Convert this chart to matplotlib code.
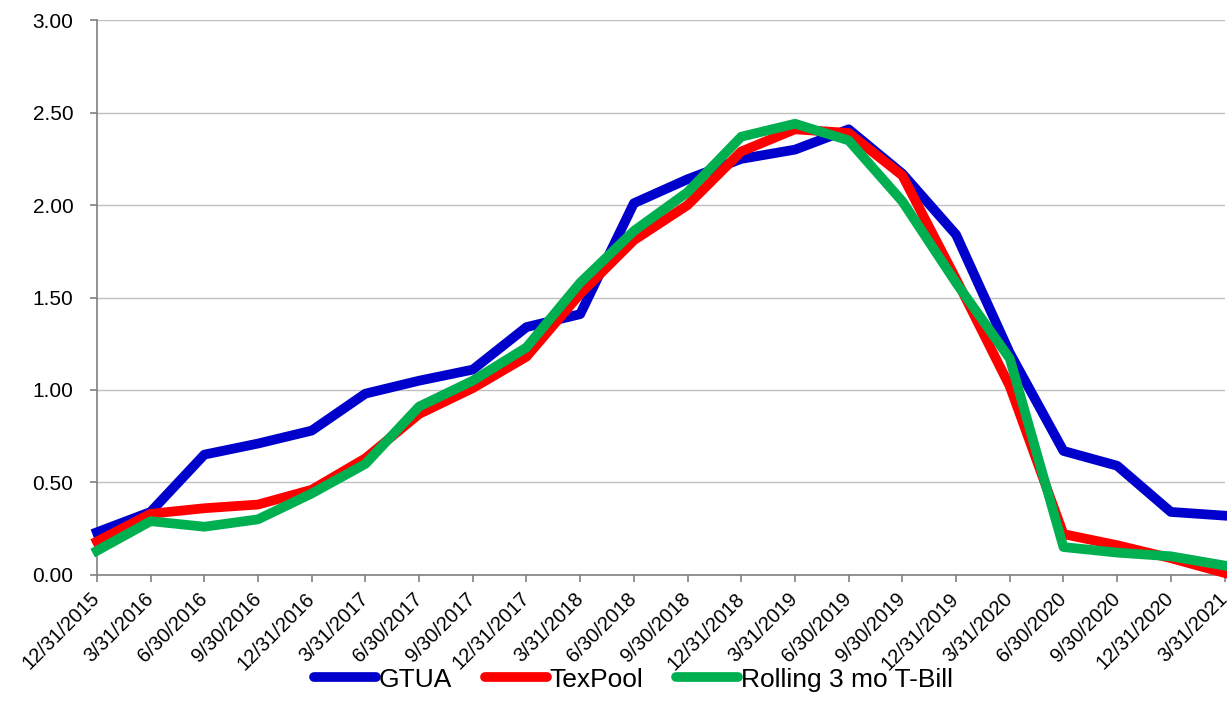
import matplotlib
matplotlib.use("Agg")
import matplotlib.pyplot as plt

plt.rcParams['font.family'] = ['Liberation Sans', 'DejaVu Sans']

dates = ["12/31/2015", "3/31/2016", "6/30/2016", "9/30/2016", "12/31/2016",
         "3/31/2017", "6/30/2017", "9/30/2017", "12/31/2017", "3/31/2018",
         "6/30/2018", "9/30/2018", "12/31/2018", "3/31/2019", "6/30/2019",
         "9/30/2019", "12/31/2019", "3/31/2020", "6/30/2020", "9/30/2020",
         "12/31/2020", "3/31/2021"]

gtua = [0.23, 0.34, 0.65, 0.71, 0.78, 0.98, 1.05, 1.11, 1.34, 1.41, 2.01,
        2.14, 2.25, 2.30, 2.41, 2.17, 1.84, 1.20, 0.67, 0.59, 0.34, 0.32]
texpool = [0.18, 0.33, 0.36, 0.38, 0.46, 0.63, 0.87, 1.01, 1.18, 1.52, 1.81,
           2.00, 2.29, 2.41, 2.39, 2.16, 1.60, 1.02, 0.22, 0.16, 0.09, 0.01]
tbill = [0.13, 0.29, 0.26, 0.30, 0.44, 0.60, 0.91, 1.05, 1.23, 1.58, 1.86,
         2.07, 2.37, 2.44, 2.35, 2.02, 1.58, 1.17, 0.15, 0.12, 0.10, 0.05]

yticks = [0.0, 0.5, 1.0, 1.5, 2.0, 2.5, 3.0]

fig = plt.figure(figsize=(12.27, 7.23), dpi=100)
ax = fig.add_axes([0.079, 0.205, 0.919, 0.767])

x = range(len(dates))
lw = 7
ax.plot(x, gtua, color="#0000CC", lw=lw, label="GTUA", clip_on=False, zorder=3)
ax.plot(x, texpool, color="#FF0000", lw=lw, label="TexPool", clip_on=False, zorder=4)
ax.plot(x, tbill, color="#00B050", lw=lw, label="Rolling 3 mo T-Bill", clip_on=False, zorder=5)

ax.set_xlim(0, len(dates) - 1)
ax.set_ylim(0, 3.0)
ax.set_yticks(yticks)
ax.set_yticklabels([f"{v:.2f}" for v in yticks], fontsize=15)
ax.set_xticks(list(x))
# right end of each date sits just past its tick, like the Excel original
ax.set_xticklabels(dates, rotation=45, ha="right", va="center", rotation_mode="anchor",
                   fontsize=14.5)

ax.grid(axis="y", color="#C0C0C0", lw=1)
ax.set_axisbelow(True)
for side in ["top", "right"]:
    ax.spines[side].set_visible(False)
for side in ["left", "bottom"]:
    ax.spines[side].set_color("#808080")
    ax.spines[side].set_linewidth(1.2)
ax.tick_params(axis="both", direction="out", color="#808080", length=5, width=1.2)
ax.tick_params(axis="y", pad=12)
ax.tick_params(axis="x", pad=10)

leg = fig.legend(loc="center", bbox_to_anchor=(0.516, 0.06), ncol=3, frameon=False,
                 fontsize=19, handlelength=2.35, handletextpad=0.1, columnspacing=1.25)
for line in leg.get_lines():
    line.set_solid_capstyle("round")

fig.savefig("out.png", dpi=100)
